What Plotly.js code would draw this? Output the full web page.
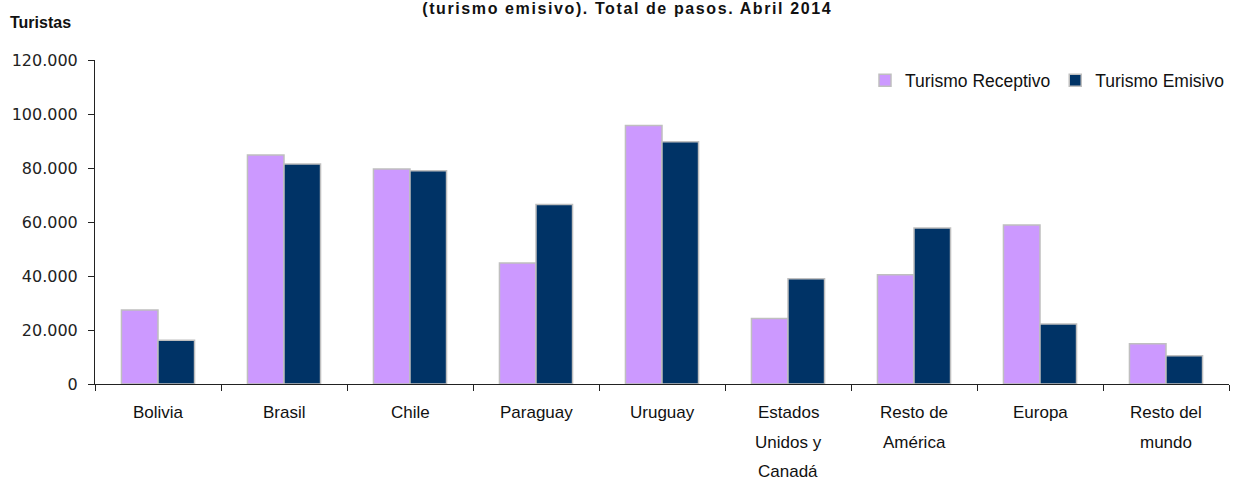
<!DOCTYPE html>
<html>
<head>
<meta charset="utf-8">
<script src="https://cdn.plot.ly/plotly-3.0.1.min.js"></script>
<style>
html,body{margin:0;padding:0;background:#fff;}
#chart{width:1242px;height:482px;}
#chart .gtitle{letter-spacing:1.6px;}
</style>
</head>
<body>
<div id="chart"></div>
<script>
const categories = ["Bolivia", "Brasil", "Chile", "Paraguay", "Uruguay", "Estados Unidos y Canadá", "Resto de América", "Europa", "Resto del mundo"];
const tickLines = [["Bolivia"], ["Brasil"], ["Chile"], ["Paraguay"], ["Uruguay"], ["Estados", "Unidos y", "Canadá"], ["Resto de", "América"], ["Europa"], ["Resto del", "mundo"]];
const receptivo = [27400, 84800, 79600, 44800, 95700, 24300, 40500, 58900, 14900];
const emisivo = [16200, 81500, 79000, 66500, 89700, 39000, 57800, 22200, 10500];
const seriesNames = ["Turismo Receptivo", "Turismo Emisivo"];
const titleText = "(turismo emisivo). Total de pasos. Abril 2014";
const yLabel = "Turistas";

const outline = {color: "#BFBFBF", width: 1.5};
const traces = [
  {type: "bar", name: seriesNames[0], x: categories, y: receptivo, marker: {color: "#CC99FF", line: outline}},
  {type: "bar", name: seriesNames[1], x: categories, y: emisivo, marker: {color: "#003366", line: outline}}
];

const annotations = [];
categories.forEach((c, ci) => {
  tickLines[ci].forEach((line, li) => {
    annotations.push({
      x: c, xref: "x", y: 0, yref: "paper", yanchor: "top", borderpad: 0,
      yshift: -18 - 29.5 * li, showarrow: false, text: line,
      font: {family: "Liberation Sans, Arial, sans-serif", size: 17, color: "#111"}
    });
  });
});
annotations.push({
  x: 0, xref: "paper", xanchor: "left", xshift: -87, y: 1, yref: "paper", yanchor: "middle", yshift: 38,
  showarrow: false, text: "<b>" + yLabel + "</b>",
  font: {family: "Liberation Sans, Arial, sans-serif", size: 16, color: "#111"}
});

const layout = {
  width: 1242, height: 482,
  margin: {l: 95, r: 13, t: 60, b: 98},
  paper_bgcolor: "#fff", plot_bgcolor: "#fff",
  separators: ",.",
  title: {text: "<b>" + titleText + "</b>", x: 0.505, xanchor: "center", y: 0.995, yanchor: "top",
          font: {family: "Liberation Sans, Arial, sans-serif", size: 16, color: "#111"}},
  barmode: "group", bargap: 0.42, bargroupgap: 0,
  showlegend: true,
  legend: {orientation: "h", x: 1, xanchor: "right", y: 0.937, yanchor: "middle",
           font: {family: "Liberation Sans, Arial, sans-serif", size: 17.5, color: "#111"},
           bgcolor: "rgba(0,0,0,0)", itemwidth: 30, traceorder: "normal"},
  xaxis: {type: "category", showticklabels: false, showline: true, linecolor: "#222", linewidth: 1,
          ticks: "outside", tickson: "boundaries", ticklen: 6, tickcolor: "#222", showgrid: false, zeroline: false,
          fixedrange: true},
  yaxis: {range: [0, 120000], tickvals: [0, 20000, 40000, 60000, 80000, 100000, 120000], tickformat: ",.0f",
          showline: true, linecolor: "#222", linewidth: 1, ticks: "outside", ticklen: 6, tickcolor: "#222",
          showgrid: false, zeroline: false, ticklabelstandoff: 7,
          tickfont: {family: "DejaVu Sans, sans-serif", size: 16, color: "#222"}},
  annotations: annotations
};

Plotly.newPlot("chart", traces, layout, {displayModeBar: false, staticPlot: true});
</script>
</body>
</html>
